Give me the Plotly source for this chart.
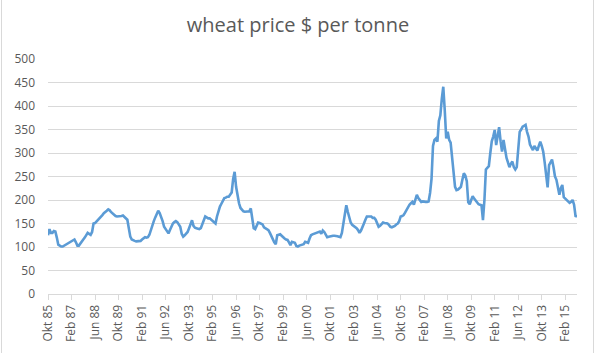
import plotly.graph_objects as go

# Monthly wheat price, US$ per tonne, Oct 1985 .. Oct 2015
price_1985 = [125, 138, 130]
price_1986 = [130, 134, 133, 120, 105, 103, 101, 101, 103, 104, 106, 108]
price_1987 = [110, 112, 114, 116, 110, 103, 103, 108, 114, 116, 120, 124]
price_1988 = [130, 128, 126, 132, 150, 151, 154, 157, 160, 165, 168, 172]
price_1989 = [174, 177, 180, 178, 174, 171, 169, 166, 165, 165, 166, 166]
price_1990 = [167, 164, 160, 158, 140, 122, 116, 114, 113, 112, 112, 112]
price_1991 = [113, 116, 119, 121, 120, 121, 126, 137, 146, 155, 163, 170]
price_1992 = [177, 172, 165, 155, 143, 138, 132, 129, 136, 145, 150, 153]
price_1993 = [155, 153, 148, 143, 128, 122, 125, 128, 132, 140, 150, 157]
price_1994 = [145, 141, 140, 139, 138, 140, 150, 158, 165, 163, 161, 161]
price_1995 = [158, 154, 152, 150, 165, 178, 186, 192, 200, 204, 205, 207]
price_1996 = [207, 212, 216, 245, 260, 228, 207, 193, 183, 178, 176, 175]
price_1997 = [175, 175, 176, 182, 165, 140, 138, 145, 152, 151, 150, 148]
price_1998 = [142, 140, 138, 136, 130, 122, 115, 110, 106, 125, 126, 127]
price_1999 = [124, 120, 118, 116, 115, 110, 104, 111, 110, 109, 102, 101]
price_2000 = [103, 104, 105, 106, 111, 110, 109, 118, 125, 127, 128, 130]
price_2001 = [131, 132, 133, 128, 135, 132, 125, 121, 122, 123, 124, 124]
price_2002 = [124, 124, 123, 122, 121, 130, 150, 175, 189, 175, 163, 152]
price_2003 = [147, 145, 143, 140, 136, 130, 135, 145, 150, 158, 165, 165]
price_2004 = [165, 165, 162, 162, 158, 150, 143, 145, 148, 152, 151, 150]
price_2005 = [150, 147, 143, 142, 143, 145, 148, 150, 155, 165, 166, 168]
price_2006 = [173, 178, 186, 190, 193, 196, 190, 200, 211, 204, 200, 196]
price_2007 = [197, 196, 196, 196, 197, 215, 245, 315, 328, 331, 324, 368]
price_2008 = [380, 415, 441, 391, 331, 345, 328, 322, 290, 260, 228, 221]
price_2009 = [222, 225, 228, 243, 257, 252, 240, 195, 191, 200, 208, 203]
price_2010 = [199, 195, 191, 190, 189, 157, 200, 265, 270, 272, 300, 325]
price_2011 = [335, 349, 317, 340, 355, 325, 303, 328, 306, 290, 280, 270]
price_2012 = [277, 282, 270, 265, 270, 310, 345, 350, 356, 358, 360, 345]
price_2013 = [335, 318, 310, 306, 315, 310, 305, 315, 324, 315, 303, 280]
price_2014 = [245, 227, 274, 280, 286, 270, 250, 243, 225, 211, 225, 232]
price_2015 = [206, 203, 200, 198, 194, 196, 200, 190, 166, 165]

month_names = ["Jan", "Feb", "Mrz", "Apr", "Mai", "Jun",
               "Jul", "Aug", "Sep", "Okt", "Nov", "Dez"]
start_year, start_month = 1985, 10
tick_step = 16
y_ticks = [0, 50, 100, 150, 200, 250, 300, 350, 400, 450, 500]

yearly = [price_1985, price_1986, price_1987, price_1988, price_1989, price_1990,
          price_1991, price_1992, price_1993, price_1994, price_1995, price_1996,
          price_1997, price_1998, price_1999, price_2000, price_2001, price_2002,
          price_2003, price_2004, price_2005, price_2006, price_2007, price_2008,
          price_2009, price_2010, price_2011, price_2012, price_2013, price_2014,
          price_2015]
prices = [v for yr in yearly for v in yr]

labels = []
for i in range(len(prices)):
    m = start_month - 1 + i
    y = start_year + m // 12
    labels.append(f"{month_names[m % 12]} {y % 100:02d}")

x = list(range(len(prices)))
tickvals = x[::tick_step]
ticktext = [labels[i] for i in tickvals]

W, H = 596, 353
ML, MR, MT, MB = 48, 19, 59, 59
pw = W - ML - MR
ph = H - MT - MB

fig = go.Figure()
fig.add_trace(go.Scatter(
    x=x, y=prices, mode="lines",
    line=dict(color="#5B9BD5", width=2.6),
    text=labels, hovertemplate="%{text}: %{y}<extra></extra>",
    showlegend=False,
))

grey = "#595959"
fig.update_layout(
    width=W, height=H,
    margin=dict(l=ML, r=MR, t=MT, b=MB, pad=0),
    paper_bgcolor="white", plot_bgcolor="white",
    font=dict(family="Open Sans", color=grey, size=12),
    title=dict(text="wheat price $ per tonne", x=0.5, xref="container",
               xanchor="center", y=1 - 25 / H, yref="container", yanchor="middle",
               font=dict(family="Open Sans", size=20, color=grey)),
    xaxis=dict(range=[0, len(prices) - 1], tickmode="array", tickvals=tickvals,
               ticktext=ticktext, tickangle=-90, showgrid=False, zeroline=False,
               showline=True, linecolor="#d9d9d9", linewidth=1,
               ticks="outside", ticklen=5, tickcolor="#d9d9d9", tickwidth=1,
               tickfont=dict(size=12, color=grey)),
    yaxis=dict(range=[0, 500], tickmode="array", tickvals=y_ticks,
               showgrid=True, gridcolor="#d9d9d9", gridwidth=1, zeroline=False,
               showline=False, ticks="", ticklabelstandoff=12,
               tickfont=dict(size=12, color=grey)),
    shapes=[
        dict(type="line", xref="paper", yref="paper",
             x0=(1.5 - ML) / pw, x1=(1.5 - ML) / pw,
             y0=-MB / ph - 0.1, y1=1 + MT / ph + 0.1,
             line=dict(color="#d9d9d9", width=1)),
        dict(type="line", xref="paper", yref="paper",
             x0=(593.5 - ML) / pw, x1=(593.5 - ML) / pw,
             y0=-MB / ph - 0.1, y1=1 + MT / ph + 0.1,
             line=dict(color="#d9d9d9", width=1)),
    ],
)

fig.write_html("out.html")
